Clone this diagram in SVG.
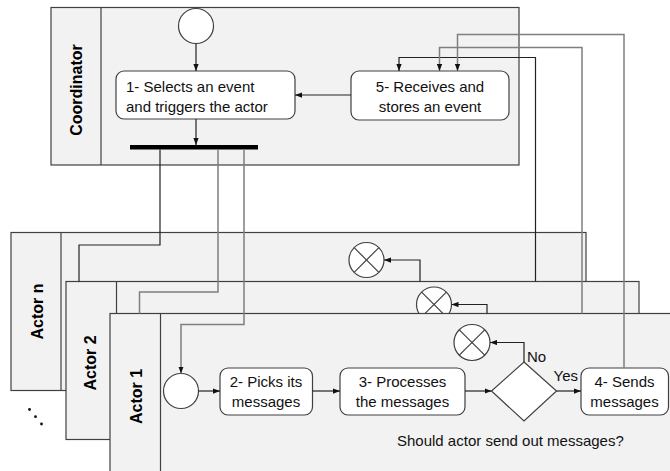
<svg xmlns="http://www.w3.org/2000/svg" width="670" height="471" viewBox="0 0 670 471">
<defs>
<marker id="ah" viewBox="0 0 8 6" refX="8" refY="3" markerWidth="7" markerHeight="5.5" markerUnits="userSpaceOnUse" orient="auto">
<path d="M0,0 L8,3 L0,6 Z" fill="#111"/>
</marker>
<style>
.lane{fill:#f2f2f2;stroke:#404040;stroke-width:1.2}
.hdr{fill:none;stroke:#404040;stroke-width:1.2}
.lbl{font-family:"Liberation Sans",Arial,sans-serif;font-size:16px;font-weight:bold;fill:#000;text-anchor:middle}
.box{fill:#fff;stroke:#404040;stroke-width:1.2}
.t{font-family:"Liberation Sans",Arial,sans-serif;font-size:15px;fill:#111}
.c{text-anchor:middle}
.circ{fill:#fff;stroke:#404040;stroke-width:1.2}
.x{stroke:#404040;stroke-width:1.2}
.dk{fill:none;stroke:#222;stroke-width:1.2}
.gr{fill:none;stroke:#7f7f7f;stroke-width:1.5}
.ar{marker-end:url(#ah)}
</style>
</defs>

<g id="coordinator">
<rect class="lane" x="51" y="7.5" width="468" height="157.5"/>
<line class="hdr" x1="101" y1="7.5" x2="101" y2="165"/>
<text class="lbl" transform="translate(81.5,90) rotate(-90)">Coordinator</text>
</g>
<g id="start-coord"><circle class="circ" cx="196" cy="26" r="17.5"/></g>
<g id="step1">
<rect class="box" x="116" y="71" width="179" height="48" rx="8"/>
<text class="t" x="126" y="92">1- Selects an event</text>
<text class="t" x="126" y="111.5">and triggers the actor</text>
</g>
<g id="fork"><rect x="130" y="145" width="128" height="4.5" fill="#000"/></g>
<g id="step5">
<rect class="box" x="351" y="71" width="158" height="49" rx="8"/>
<text class="t c" x="430" y="92">5- Receives and</text>
<text class="t c" x="430" y="111.5">stores an event</text>
</g>

<g id="actor-n">
<rect class="lane" x="11" y="232.5" width="575" height="158"/>
<line class="hdr" x1="61" y1="232.5" x2="61" y2="390.5"/>
<text class="lbl" transform="translate(42.5,311.5) rotate(-90)">Actor n</text>
<g id="end-n"><circle class="circ" cx="366.5" cy="260" r="17.5"/>
<line class="x" x1="354.1" y1="247.6" x2="378.9" y2="272.4"/><line class="x" x1="354.1" y1="272.4" x2="378.9" y2="247.6"/></g>
</g>

<g id="actor-2">
<rect class="lane" x="66" y="281.5" width="573" height="158"/>
<line class="hdr" x1="116.5" y1="281.5" x2="116.5" y2="439.5"/>
<text class="lbl" transform="translate(96,363) rotate(-90)">Actor 2</text>
<g id="end-2"><circle class="circ" cx="434" cy="304.5" r="17.5"/>
<line class="x" x1="421.6" y1="292.1" x2="446.4" y2="316.9"/><line class="x" x1="421.6" y1="316.9" x2="446.4" y2="292.1"/></g>
</g>

<g id="actor-1">
<rect class="lane" x="110" y="313.5" width="575" height="170"/>
<line class="hdr" x1="160.5" y1="313.5" x2="160.5" y2="475"/>
<text class="lbl" transform="translate(141.5,396.5) rotate(-90)">Actor 1</text>
</g>
<g id="start-1"><circle class="circ" cx="181" cy="391" r="17.5"/></g>
<g id="step2">
<rect class="box" x="220" y="368" width="92.5" height="47" rx="8"/>
<text class="t c" x="266" y="387">2- Picks its</text>
<text class="t c" x="266" y="406.5">messages</text>
</g>
<g id="step3">
<rect class="box" x="340" y="368" width="125" height="47" rx="8"/>
<text class="t c" x="402.5" y="387">3- Processes</text>
<text class="t c" x="402.5" y="406.5">the messages</text>
</g>
<g id="decision">
<polygon class="box" points="524,362 556.5,391 524,421 491.5,391"/>
<text class="t" x="397" y="446">Should actor send out messages?</text>
</g>
<g id="step4">
<rect class="box" x="581" y="368" width="87.5" height="47" rx="8"/>
<text class="t c" x="624.5" y="387">4- Sends</text>
<text class="t c" x="624.5" y="406.5">messages</text>
</g>
<g id="end-1"><circle class="circ" cx="472" cy="342.5" r="18"/>
<line class="x" x1="459.3" y1="329.8" x2="484.7" y2="355.2"/><line class="x" x1="459.3" y1="355.2" x2="484.7" y2="329.8"/></g>

<g id="dots" fill="#111">
<circle cx="29.5" cy="409.5" r="1.4"/><circle cx="35.5" cy="416.7" r="1.4"/><circle cx="41.5" cy="424" r="1.4"/>
</g>

<g id="connectors">
<line class="dk ar" x1="196" y1="43.5" x2="196" y2="71"/>
<line class="dk ar" x1="196" y1="119" x2="196" y2="145"/>
<line class="dk ar" x1="351" y1="95" x2="295" y2="95"/>
<polyline class="dk ar" points="535.5,281.5 535.5,57.5 399,57.5 399,71"/>
<polyline class="gr ar" points="582,313.5 582,47.5 439.5,47.5 439.5,71"/>
<polyline class="gr ar" points="624,368 624,34.5 457.5,34.5 457.5,71"/>
<polyline class="dk" points="160,149.5 160,245 79,245 79,281.5"/>
<polyline class="gr" points="218,149.5 218,292 139.5,292 139.5,313.5"/>
<polyline class="gr ar" points="244,149.5 244,324.5 181,324.5 181,373.5"/>
<line class="dk ar" x1="198.5" y1="391" x2="220" y2="391"/>
<line class="dk ar" x1="312.5" y1="391" x2="340" y2="391"/>
<line class="dk ar" x1="465" y1="391" x2="491.5" y2="391"/>
<line class="dk ar" x1="556.5" y1="391" x2="581" y2="391"/>
<polyline class="dk ar" points="524,362 524,342.5 490,342.5"/>
<polyline class="dk ar" points="487,313.5 487,304.5 451.5,304.5"/>
<polyline class="dk ar" points="420,281.5 420,260 384,260"/>
<text class="t" x="553.5" y="380.5">Yes</text>
<text class="t" x="527" y="361.5">No</text>
</g>
</svg>
